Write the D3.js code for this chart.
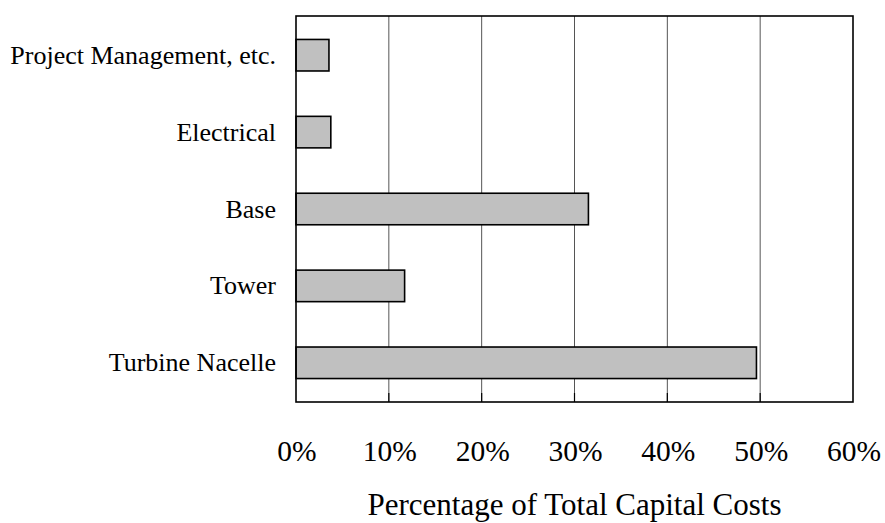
<!DOCTYPE html>
<html>
<head>
<meta charset="utf-8">
<script src="https://cdn.jsdelivr.net/npm/d3@7"></script>
<style>
body { margin: 0; background: #fff; }
svg { display: block; }
text { font-family: "Liberation Serif", "Times New Roman", serif; fill: #000; }
</style>
</head>
<body>
<svg id="chart" width="885" height="523"></svg>
<script>
// categories top to bottom, values in percent of total capital cost
var categories = ["Project Management, etc.", "Electrical", "Base", "Tower", "Turbine Nacelle"];
var shares = [3.55, 3.75, 31.5, 11.7, 49.6];
var tickValues = [0, 10, 20, 30, 40, 50, 60];
var axisTitle = "Percentage of Total Capital Costs";

var svg = d3.select("#chart");
var margin = {top: 16, left: 296, right: 32, bottom: 121};
var width = 885 - margin.left - margin.right;
var height = 523 - margin.top - margin.bottom;

var g = svg.append("g").attr("transform", "translate(" + margin.left + "," + margin.top + ")");

var x = d3.scaleLinear().domain([0, 60]).range([0, width]);
var y = d3.scaleBand().domain(categories).range([0, height])
	.paddingInner(0.59).paddingOuter(0.305);

var data = categories.map(function(c, i){ return {name: c, value: shares[i]}; });

// vertical gridlines
g.append("g").selectAll("line")
	.data(tickValues.slice(1, -1))
	.enter()
	.append("line")
	.attr("x1", function(d){ return x(d); })
	.attr("x2", function(d){ return x(d); })
	.attr("y1", 0)
	.attr("y2", height)
	.attr("stroke", "#555")
	.attr("stroke-width", 1);

// inward tick marks on bottom edge
g.append("g").selectAll("line")
	.data(tickValues.slice(1, -1))
	.enter()
	.append("line")
	.attr("x1", function(d){ return x(d); })
	.attr("x2", function(d){ return x(d); })
	.attr("y1", height - 9)
	.attr("y2", height)
	.attr("stroke", "#000")
	.attr("stroke-width", 1.2);

// bars
g.append("g").selectAll("rect")
	.data(data)
	.enter()
	.append("rect")
	.attr("x", x(0))
	.attr("y", function(d){ return y(d.name); })
	.attr("width", function(d){ return x(d.value) - x(0); })
	.attr("height", y.bandwidth())
	.attr("fill", "#c0c0c0")
	.attr("stroke", "#000")
	.attr("stroke-width", 1.6);

// plot frame
g.append("rect")
	.attr("x", 0).attr("y", 0)
	.attr("width", width).attr("height", height)
	.attr("fill", "none")
	.attr("stroke", "#000")
	.attr("stroke-width", 1.6);

// category labels
g.append("g").selectAll("text")
	.data(data)
	.enter()
	.append("text")
	.attr("x", -20)
	.attr("y", function(d){ return y(d.name) + y.bandwidth() / 2; })
	.attr("dy", "0.33em")
	.attr("text-anchor", "end")
	.style("font-size", "26px")
	.text(function(d){ return d.name; });

// tick labels
g.append("g").selectAll("text")
	.data(tickValues)
	.enter()
	.append("text")
	.attr("x", function(d){ return x(d) + 1; })
	.attr("y", height + 59)
	.attr("text-anchor", "middle")
	.style("font-size", "29.5px")
	.text(function(d){ return d + "%"; });

// axis title
g.append("text")
	.attr("x", width / 2)
	.attr("y", height + 113)
	.attr("text-anchor", "middle")
	.style("font-size", "31px")
	.text(axisTitle);
</script>
</body>
</html>
